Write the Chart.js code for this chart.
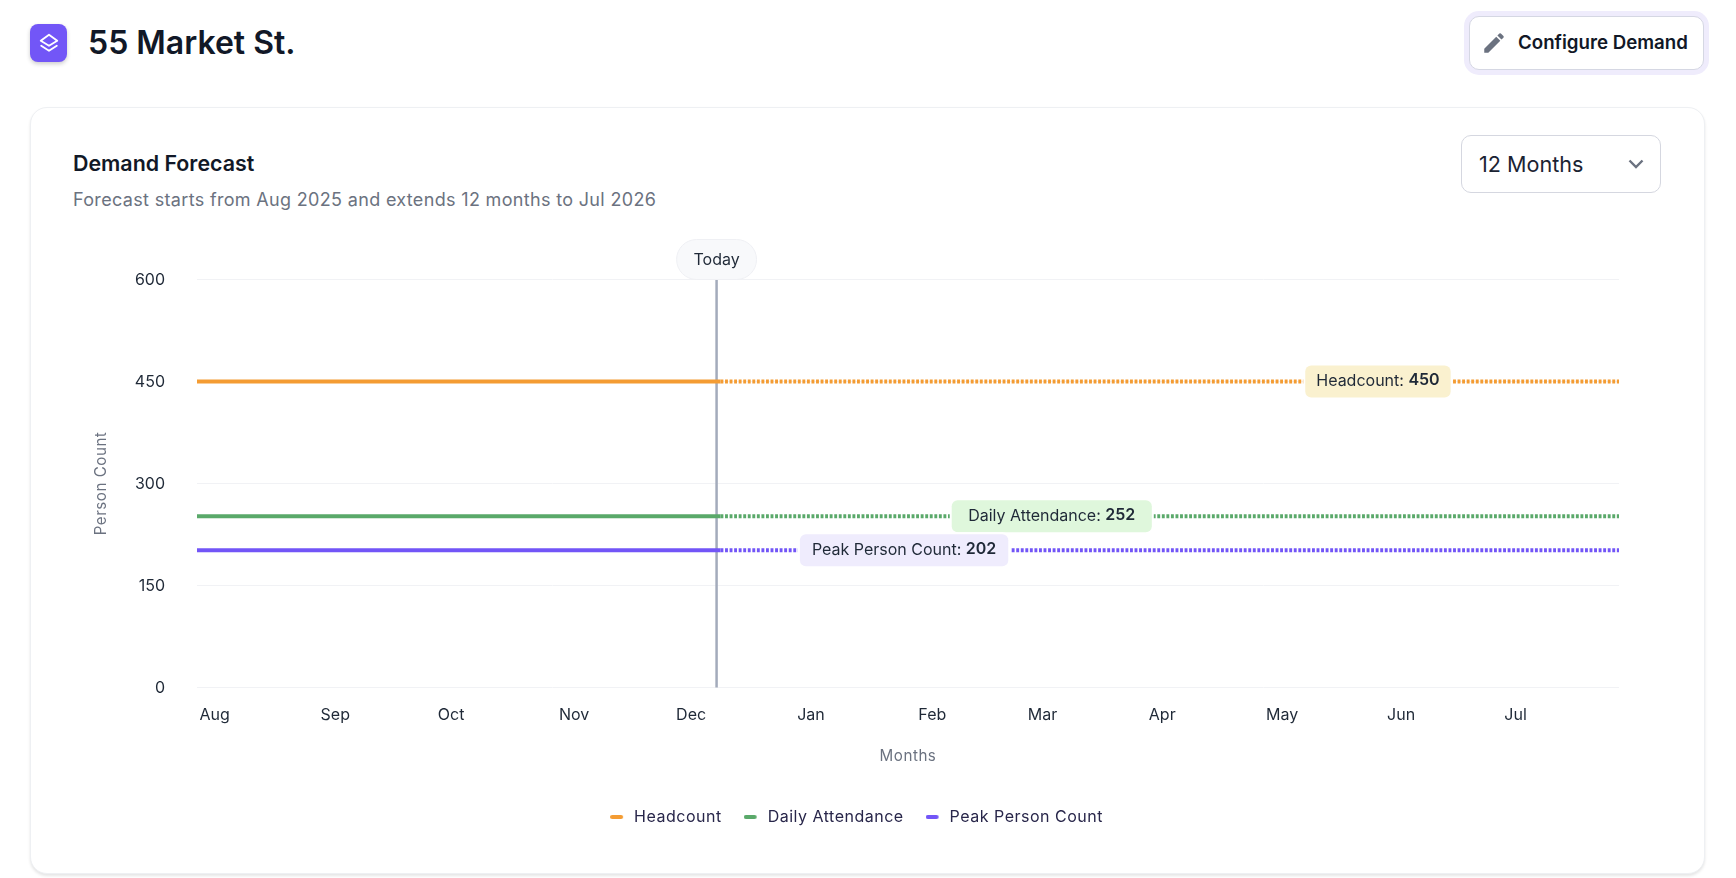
<!DOCTYPE html>
<html>
<head>
<meta charset="utf-8">
<title>55 Market St.</title>
<script src="https://cdn.jsdelivr.net/npm/chart.js@4"></script>
<style>
  html, body { margin: 0; padding: 0; background: #fff; width: 1736px; height: 878px; overflow: hidden; font-family: Inter, sans-serif; color: #111827; }
  .abs { position: absolute; white-space: nowrap; }
  .logo { left: 30px; top: 24px; width: 37px; height: 38px; border-radius: 8px; background: #7256f7; box-shadow: 0 2px 4px rgba(0,0,0,.2); display: flex; align-items: center; justify-content: center; }
  h1 { margin: 0; left: 88px; top: 23px; font-size: 32px; line-height: 40px; font-weight: 600; }
  .btn { left: 1469px; top: 16px; width: 233px; height: 52px; border: 1px solid #d5d7e3; border-radius: 10px; box-shadow: 0 0 0 5px #efecfc; background: #fff; }
  .btn svg { position: absolute; left: 11px; top: 13px; }
  .btn span { position: absolute; left: 48px; top: 13px; font-size: 18.7px; line-height: 25px; font-weight: 600; }
  .card { left: 30px; top: 107px; width: 1673px; height: 765px; border: 1px solid #eef0f3; border-radius: 17px; box-shadow: 0 2px 3px rgba(0,0,0,.1); background: #fff; }
  h2 { margin: 0; left: 73px; top: 149px; font-size: 21.4px; line-height: 28px; font-weight: 600; }
  .sub { left: 73px; top: 188px; font-size: 18px; line-height: 24px; color: #6b7280; letter-spacing: 0.33px; }
  .select { left: 1461px; top: 135px; width: 198px; height: 56px; border: 1px solid #d5d7e0; border-radius: 10px; background: #fff; }
  .select span { position: absolute; left: 17px; top: 14px; font-size: 21.6px; line-height: 28px; color: #1b2333; }
  .select svg { position: absolute; left: 165px; top: 19px; }
  #chartWrap { left: 30px; top: 200px; width: 1674px; height: 670px; }
</style>
</head>
<body>
<div class="abs logo">
  <svg width="22" height="22" viewBox="0 0 24 24" fill="none" stroke="#fff" stroke-width="2" stroke-linejoin="round" stroke-linecap="round"><path d="M12 3 L21 9.5 L12 15 L3 9.5 Z"/><path d="M3.5 15 L12 20.5 L20.5 15"/></svg>
</div>
<h1 class="abs">55 Market St.</h1>
<div class="abs btn">
  <svg width="26" height="26" viewBox="0 0 24 24" fill="#6b7280"><path d="M3 17.25V21h3.75L17.8 9.94l-3.75-3.75L3 17.25zM20.7 7.04a1 1 0 0 0 0-1.41l-2.33-2.34a1 1 0 0 0-1.41 0l-1.83 1.83 3.75 3.75 1.82-1.83z"/></svg>
  <span>Configure Demand</span>
</div>
<div class="abs card"></div>
<h2 class="abs">Demand Forecast</h2>
<div class="abs sub">Forecast starts from Aug 2025 and extends 12 months to Jul 2026</div>
<div class="abs select">
  <span>12 Months</span>
  <svg width="18" height="18" viewBox="0 0 18 18" fill="none" stroke="#6b7280" stroke-width="2.4"><path d="M2.5 5.5 L9 12 L15.5 5.5"/></svg>
</div>
<div class="abs" id="chartWrap"><canvas id="forecastChart"></canvas></div>

<script>
// 軸の目盛り（日数は 2025-08-01 からの経過日）
const monthLabels = ['Aug', 'Sep', 'Oct', 'Nov', 'Dec', 'Jan', 'Feb', 'Mar', 'Apr', 'May', 'Jun', 'Jul'];
const monthStartDays = [0, 31, 61, 92, 122, 153, 184, 212, 243, 273, 304, 334];
const yTicks = [0, 150, 300, 450, 600];
const lastDay = 364;
const todayDay = 133;

// 系列データ
const pointDays = [0, 31, 61, 92, 122, 134, 153, 184, 212, 243, 273, 304, 334, 364];
const headcount = [450, 450, 450, 450, 450, 450, 450, 450, 450, 450, 450, 450, 450, 450];
const dailyAttendance = [252, 252, 252, 252, 252, 252, 252, 252, 252, 252, 252, 252, 252, 252];
const peakPersonCount = [202, 202, 202, 202, 202, 202, 202, 202, 202, 202, 202, 202, 202, 202];

const font = 'Inter, sans-serif';

function makeDataset(label, values, color, labelBg, labelDay, labelPad) {
    return {
        label: label,
        data: values.map((v, i) => ({ x: pointDays[i], y: v })),
        borderColor: color,
        backgroundColor: color,
        borderWidth: 4,
        pointRadius: 0,
        borderCapStyle: 'butt',
        labelBg: labelBg,
        labelDay: labelDay,
        labelPad: labelPad,
        // 今日より先は点線
        segment: {
            borderDash: ctx => (ctx.p0.parsed.x >= pointDays[5] ? [2.9, 1.65] : undefined),
        },
    };
}

function roundRect(ctx, x, y, w, h, r) {
    ctx.beginPath();
    ctx.roundRect(x, y, w, h, r);
}

// 凡例の短いバー（右側の余白込み）
function legendSwatch(color) {
    const c = document.createElement('canvas');
    c.width = 16;
    c.height = 4;
    const g = c.getContext('2d');
    g.fillStyle = color;
    roundRect(g, 0, 0, 13, 4, 2);
    g.fill();
    return c;
}

// 凡例だけ字間を少し広げる
const legendSpacingPlugin = {
    id: 'legendSpacing',
    beforeLayout(chart) { chart.ctx.letterSpacing = '0.5px'; },
    afterLayout(chart) { chart.ctx.letterSpacing = '0px'; },
    beforeDraw(chart) { chart.ctx.letterSpacing = '0.5px'; },
    beforeDatasetsDraw(chart) { chart.ctx.letterSpacing = '0px'; },
};

// Today の縦線とバッジ
const todayPlugin = {
    id: 'todayLine',
    beforeDatasetsDraw(chart) {
        const ctx = chart.ctx;
        const x = chart.scales.x.getPixelForValue(todayDay);
        const top = chart.chartArea.top;
        ctx.save();
        ctx.strokeStyle = '#a3abbb';
        ctx.lineWidth = 2.5;
        ctx.beginPath();
        ctx.moveTo(x, top);
        ctx.lineTo(x, chart.chartArea.bottom);
        ctx.stroke();
        roundRect(ctx, x - 40, top - 40, 80, 40, 20);
        ctx.fillStyle = '#f8f9fb';
        ctx.fill();
        ctx.strokeStyle = '#eff0f4';
        ctx.lineWidth = 1;
        ctx.stroke();
        ctx.fillStyle = '#1f2937';
        ctx.font = '16px ' + font;
        ctx.textAlign = 'center';
        ctx.textBaseline = 'middle';
        ctx.fillText('Today', x, top - 19);
        ctx.restore();
    },
};

// 各系列の値ラベル
const valueLabelPlugin = {
    id: 'valueLabels',
    afterDatasetsDraw(chart) {
        const ctx = chart.ctx;
        ctx.save();
        ctx.textBaseline = 'middle';
        ctx.textAlign = 'left';
        chart.data.datasets.forEach(ds => {
            const text = ds.label + ': ';
            const value = String(ds.data[0].y);
            ctx.font = '16px ' + font;
            const tw = ctx.measureText(text).width;
            ctx.font = '600 16px ' + font;
            const vw = ctx.measureText(value).width;
            const w = tw + vw + ds.labelPad * 2;
            const cx = chart.scales.x.getPixelForValue(ds.labelDay);
            const cy = chart.scales.y.getPixelForValue(ds.data[0].y);
            roundRect(ctx, cx - w / 2, cy - 16, w, 32, 6);
            ctx.fillStyle = ds.labelBg;
            ctx.strokeStyle = '#fff';
            ctx.lineWidth = 4;
            ctx.stroke();
            ctx.fill();
            ctx.fillStyle = '#1f2937';
            ctx.font = '16px ' + font;
            ctx.fillText(text, cx - w / 2 + ds.labelPad, cy);
            ctx.font = '600 16px ' + font;
            ctx.fillText(value, cx - w / 2 + ds.labelPad + tw, cy - 1);
        });
        ctx.restore();
    },
};

document.addEventListener('DOMContentLoaded', () => {
    const ctx = document.getElementById('forecastChart').getContext('2d');
    new Chart(ctx, {
        type: 'line',
        data: {
            datasets: [
                makeDataset('Headcount', headcount, '#f49c33', '#faf1cf', 302.3, 11),
                makeDataset('Daily Attendance', dailyAttendance, '#5aa96a', '#dff7dc', 218.8, 16.5),
                makeDataset('Peak Person Count', peakPersonCount, '#7255f7', '#efecfd', 181, 12),
            ],
        },
        options: {
            responsive: true,
            maintainAspectRatio: false,
            animation: false,
            layout: { padding: { left: 64, right: 85, top: 79.5, bottom: 35 } },
            plugins: {
                tooltip: { enabled: false },
                legend: {
                    position: 'bottom',
                    labels: {
                        usePointStyle: true,
                        pointStyleWidth: 16,
                        boxHeight: 4,
                        padding: 22,
                        color: '#28264a',
                        font: { family: font, size: 16 },
                        generateLabels(chart) {
                            return Chart.defaults.plugins.legend.labels.generateLabels(chart)
                                .map((item, i) => ({
                                    ...item,
                                    lineWidth: 0,
                                    pointStyle: legendSwatch(chart.data.datasets[i].borderColor),
                                }));
                        },
                    },
                },
            },
            scales: {
                x: {
                    type: 'linear',
                    min: 0,
                    max: lastDay,
                    grid: { display: false, z: -1 },
                    border: { display: false, z: 1 },
                    title: { display: true, text: 'Months', color: '#6b7280', font: { family: font, size: 15.2 }, padding: { top: 20, bottom: 21.5 } },
                    afterBuildTicks(scale) {
                        scale.ticks = monthStartDays.map(d => ({ value: d }));
                    },
                    afterFit(scale) {
                        scale.height = 99.5;
                    },
                    ticks: {
                        z: 1,
                        autoSkip: false,
                        maxRotation: 0,
                        align: 'start',
                        labelOffset: 2.5,
                        padding: 10,
                        color: '#1f2937',
                        font: { family: font, size: 16 },
                        callback: (value, i) => monthLabels[i],
                    },
                },
                y: {
                    min: 0,
                    max: 600,
                    grid: { color: '#f1f2f5', drawTicks: false, z: -1 },
                    border: { display: false, z: 1 },
                    title: { display: true, text: 'Person Count', color: '#6b7280', font: { family: font, size: 15.2 }, padding: { top: -2, bottom: 0 } },
                    afterBuildTicks(scale) {
                        scale.ticks = yTicks.map(v => ({ value: v }));
                    },
                    afterFit(scale) {
                        scale.width = 103;
                    },
                    ticks: {
                        z: 1,
                        padding: 32,
                        labelOffset: 1,
                        color: '#1f2937',
                        font: { family: font, size: 16 },
                    },
                },
            },
        },
        plugins: [legendSpacingPlugin, todayPlugin, valueLabelPlugin],
    });
});
</script>
</body>
</html>
